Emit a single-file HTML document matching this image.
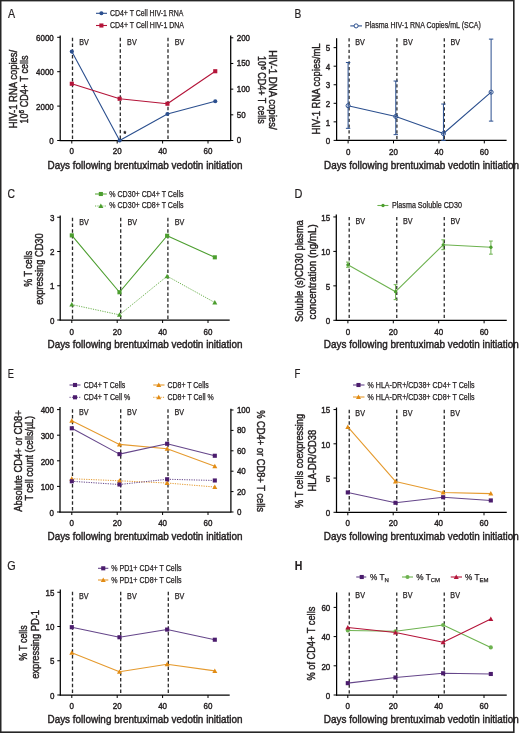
<!DOCTYPE html><html><head><meta charset="utf-8"><style>html,body{margin:0;padding:0;background:#fff;}svg{display:block;will-change:transform;}</style></head><body>
<svg width="520" height="733" viewBox="0 0 520 733" font-family='"Liberation Sans", sans-serif' fill="#231f20"><style>text{stroke:#231f20;stroke-width:0.42px;} .lg{stroke-width:0.25px;}</style>
<rect width="520" height="733" fill="#fff"/>
<line x1="60.20" y1="35.50" x2="60.20" y2="141.10" stroke="#000" stroke-width="1.25"/>
<line x1="59.60" y1="140.50" x2="230.70" y2="140.50" stroke="#000" stroke-width="1.25"/>
<line x1="57.20" y1="140.50" x2="60.20" y2="140.50" stroke="#000" stroke-width="1"/>
<text x="53.80" y="144.20" font-size="8.8" text-anchor="end" textLength="4.45" lengthAdjust="spacingAndGlyphs">0</text>
<line x1="57.20" y1="106.10" x2="60.20" y2="106.10" stroke="#000" stroke-width="1"/>
<text x="53.80" y="109.80" font-size="8.8" text-anchor="end" textLength="17.80" lengthAdjust="spacingAndGlyphs">2000</text>
<line x1="57.20" y1="71.70" x2="60.20" y2="71.70" stroke="#000" stroke-width="1"/>
<text x="53.80" y="75.40" font-size="8.8" text-anchor="end" textLength="17.80" lengthAdjust="spacingAndGlyphs">4000</text>
<line x1="57.20" y1="37.30" x2="60.20" y2="37.30" stroke="#000" stroke-width="1"/>
<text x="53.80" y="41.00" font-size="8.8" text-anchor="end" textLength="17.80" lengthAdjust="spacingAndGlyphs">6000</text>
<line x1="230.70" y1="35.50" x2="230.70" y2="141.10" stroke="#000" stroke-width="1.25"/>
<line x1="230.70" y1="140.50" x2="233.30" y2="140.50" stroke="#000" stroke-width="1"/>
<text x="236.70" y="143.40" font-size="8.8" textLength="4.45" lengthAdjust="spacingAndGlyphs">0</text>
<line x1="230.70" y1="114.82" x2="233.30" y2="114.82" stroke="#000" stroke-width="1"/>
<text x="236.70" y="117.72" font-size="8.8" textLength="8.90" lengthAdjust="spacingAndGlyphs">50</text>
<line x1="230.70" y1="89.15" x2="233.30" y2="89.15" stroke="#000" stroke-width="1"/>
<text x="236.70" y="92.05" font-size="8.8" textLength="13.35" lengthAdjust="spacingAndGlyphs">100</text>
<line x1="230.70" y1="63.47" x2="233.30" y2="63.47" stroke="#000" stroke-width="1"/>
<text x="236.70" y="66.38" font-size="8.8" textLength="13.35" lengthAdjust="spacingAndGlyphs">150</text>
<line x1="230.70" y1="37.80" x2="233.30" y2="37.80" stroke="#000" stroke-width="1"/>
<text x="236.70" y="40.70" font-size="8.8" textLength="13.35" lengthAdjust="spacingAndGlyphs">200</text>
<line x1="71.80" y1="140.50" x2="71.80" y2="143.50" stroke="#000" stroke-width="1"/>
<text x="71.80" y="154.40" font-size="8.8" text-anchor="middle" textLength="4.45" lengthAdjust="spacingAndGlyphs">0</text>
<line x1="117.20" y1="140.50" x2="117.20" y2="143.50" stroke="#000" stroke-width="1"/>
<text x="117.20" y="154.40" font-size="8.8" text-anchor="middle" textLength="8.90" lengthAdjust="spacingAndGlyphs">20</text>
<line x1="162.60" y1="140.50" x2="162.60" y2="143.50" stroke="#000" stroke-width="1"/>
<text x="162.60" y="154.40" font-size="8.8" text-anchor="middle" textLength="8.90" lengthAdjust="spacingAndGlyphs">40</text>
<line x1="208.00" y1="140.50" x2="208.00" y2="143.50" stroke="#000" stroke-width="1"/>
<text x="208.00" y="154.40" font-size="8.8" text-anchor="middle" textLength="8.90" lengthAdjust="spacingAndGlyphs">60</text>
<text x="47.50" y="169.00" font-size="10.3" textLength="195.00" lengthAdjust="spacingAndGlyphs">Days following brentuximab vedotin initiation</text>
<line x1="72.50" y1="37.80" x2="72.50" y2="140.00" stroke="#2a2a2a" stroke-width="1.3" stroke-dasharray="3.4,2.35"/>
<text x="79.30" y="44.70" font-size="8.2" class="lg" textLength="9.60" lengthAdjust="spacingAndGlyphs">BV</text>
<line x1="120.30" y1="37.80" x2="120.30" y2="140.00" stroke="#2a2a2a" stroke-width="1.3" stroke-dasharray="3.4,2.35"/>
<text x="127.10" y="44.70" font-size="8.2" class="lg" textLength="9.60" lengthAdjust="spacingAndGlyphs">BV</text>
<line x1="168.00" y1="37.80" x2="168.00" y2="140.00" stroke="#2a2a2a" stroke-width="1.3" stroke-dasharray="3.4,2.35"/>
<text x="174.80" y="44.70" font-size="8.2" class="lg" textLength="9.60" lengthAdjust="spacingAndGlyphs">BV</text>
<text x="7.90" y="18.10" font-size="12.4" textLength="7.10" lengthAdjust="spacingAndGlyphs" style="stroke-width:0.2px">A</text>
<polyline points="71.80,51.59 119.62,140.50 167.43,113.99 215.25,101.25" fill="none" stroke="#2b4f8e" stroke-width="1.1" stroke-linejoin="round"/>
<polyline points="71.80,83.76 119.62,98.75 167.43,103.73 215.25,71.23" fill="none" stroke="#b41439" stroke-width="1.1" stroke-linejoin="round"/>
<circle cx="71.80" cy="51.59" r="2.05" fill="#2b4f8e"/>
<circle cx="119.62" cy="140.50" r="2.05" fill="#2b4f8e"/>
<circle cx="167.43" cy="113.99" r="2.05" fill="#2b4f8e"/>
<circle cx="215.25" cy="101.25" r="2.05" fill="#2b4f8e"/>
<rect x="69.75" y="81.71" width="4.10" height="4.10" fill="#b41439"/>
<rect x="117.57" y="96.70" width="4.10" height="4.10" fill="#b41439"/>
<rect x="165.38" y="101.68" width="4.10" height="4.10" fill="#b41439"/>
<rect x="213.20" y="69.18" width="4.10" height="4.10" fill="#b41439"/>
<text x="123.50" y="135.50" font-size="7">*</text>
<line x1="96.00" y1="13.30" x2="107.00" y2="13.30" stroke="#2b4f8e" stroke-width="1.1"/>
<circle cx="101.40" cy="13.30" r="2.05" fill="#2b4f8e"/>
<text x="110.00" y="16.40" font-size="8.2" class="lg" textLength="73.50" lengthAdjust="spacingAndGlyphs">CD4+ T Cell HIV-1 RNA</text>
<line x1="96.00" y1="25.50" x2="107.00" y2="25.50" stroke="#b41439" stroke-width="1.1"/>
<rect x="99.35" y="23.45" width="4.10" height="4.10" fill="#b41439"/>
<text x="110.00" y="28.40" font-size="8.2" class="lg" textLength="74.00" lengthAdjust="spacingAndGlyphs">CD4+ T Cell HIV-1 DNA</text>
<text transform="translate(16.70,89.00) rotate(-90)" font-size="10.3" text-anchor="middle" textLength="78.50" lengthAdjust="spacingAndGlyphs">HIV-1 RNA copies/</text>
<text transform="translate(27.60,89.50) rotate(-90)" font-size="10.3" text-anchor="middle" textLength="68.00" lengthAdjust="spacingAndGlyphs">10<tspan dy="-3.3" font-size="7.4">6</tspan><tspan dy="3.3"> CD4+ T cells</tspan></text>
<text transform="translate(269.00,89.90) rotate(90)" font-size="10.3" text-anchor="middle" textLength="79.50" lengthAdjust="spacingAndGlyphs">HIV-1 DNA copies/</text>
<text transform="translate(257.80,89.90) rotate(90)" font-size="10.3" text-anchor="middle" textLength="67.60" lengthAdjust="spacingAndGlyphs">10<tspan dy="-3.3" font-size="7.4">6</tspan><tspan dy="3.3"> CD4+ T cells</tspan></text>
<line x1="336.60" y1="38.20" x2="336.60" y2="141.00" stroke="#000" stroke-width="1.25"/>
<line x1="336.00" y1="140.40" x2="506.60" y2="140.40" stroke="#000" stroke-width="1.25"/>
<line x1="333.60" y1="140.40" x2="336.60" y2="140.40" stroke="#000" stroke-width="1"/>
<text x="330.20" y="144.10" font-size="8.8" text-anchor="end" textLength="4.45" lengthAdjust="spacingAndGlyphs">0</text>
<line x1="333.60" y1="121.85" x2="336.60" y2="121.85" stroke="#000" stroke-width="1"/>
<text x="330.20" y="125.55" font-size="8.8" text-anchor="end" textLength="4.45" lengthAdjust="spacingAndGlyphs">1</text>
<line x1="333.60" y1="103.30" x2="336.60" y2="103.30" stroke="#000" stroke-width="1"/>
<text x="330.20" y="107.00" font-size="8.8" text-anchor="end" textLength="4.45" lengthAdjust="spacingAndGlyphs">2</text>
<line x1="333.60" y1="84.75" x2="336.60" y2="84.75" stroke="#000" stroke-width="1"/>
<text x="330.20" y="88.45" font-size="8.8" text-anchor="end" textLength="4.45" lengthAdjust="spacingAndGlyphs">3</text>
<line x1="333.60" y1="66.20" x2="336.60" y2="66.20" stroke="#000" stroke-width="1"/>
<text x="330.20" y="69.90" font-size="8.8" text-anchor="end" textLength="4.45" lengthAdjust="spacingAndGlyphs">4</text>
<line x1="333.60" y1="47.65" x2="336.60" y2="47.65" stroke="#000" stroke-width="1"/>
<text x="330.20" y="51.35" font-size="8.8" text-anchor="end" textLength="4.45" lengthAdjust="spacingAndGlyphs">5</text>
<line x1="348.10" y1="140.40" x2="348.10" y2="143.40" stroke="#000" stroke-width="1"/>
<text x="348.10" y="155.40" font-size="8.8" text-anchor="middle" textLength="4.45" lengthAdjust="spacingAndGlyphs">0</text>
<line x1="393.50" y1="140.40" x2="393.50" y2="143.40" stroke="#000" stroke-width="1"/>
<text x="393.50" y="155.40" font-size="8.8" text-anchor="middle" textLength="8.90" lengthAdjust="spacingAndGlyphs">20</text>
<line x1="438.90" y1="140.40" x2="438.90" y2="143.40" stroke="#000" stroke-width="1"/>
<text x="438.90" y="155.40" font-size="8.8" text-anchor="middle" textLength="8.90" lengthAdjust="spacingAndGlyphs">40</text>
<line x1="484.30" y1="140.40" x2="484.30" y2="143.40" stroke="#000" stroke-width="1"/>
<text x="484.30" y="155.40" font-size="8.8" text-anchor="middle" textLength="8.90" lengthAdjust="spacingAndGlyphs">60</text>
<text x="324.00" y="169.00" font-size="10.3" textLength="195.00" lengthAdjust="spacingAndGlyphs">Days following brentuximab vedotin initiation</text>
<line x1="349.10" y1="38.20" x2="349.10" y2="139.90" stroke="#2a2a2a" stroke-width="1.3" stroke-dasharray="3.4,2.35"/>
<text x="355.30" y="44.90" font-size="8.2" class="lg" textLength="9.60" lengthAdjust="spacingAndGlyphs">BV</text>
<line x1="396.90" y1="38.20" x2="396.90" y2="139.90" stroke="#2a2a2a" stroke-width="1.3" stroke-dasharray="3.4,2.35"/>
<text x="403.10" y="44.90" font-size="8.2" class="lg" textLength="9.60" lengthAdjust="spacingAndGlyphs">BV</text>
<line x1="444.30" y1="38.20" x2="444.30" y2="139.90" stroke="#2a2a2a" stroke-width="1.3" stroke-dasharray="3.4,2.35"/>
<text x="450.50" y="44.90" font-size="8.2" class="lg" textLength="9.60" lengthAdjust="spacingAndGlyphs">BV</text>
<text x="294.50" y="18.00" font-size="12.4" textLength="6.80" lengthAdjust="spacingAndGlyphs" style="stroke-width:0.2px">B</text>
<polyline points="348.10,105.71 395.77,116.47 443.44,133.54 491.11,92.17" fill="none" stroke="#2b4f8e" stroke-width="1.1" stroke-linejoin="round"/>
<line x1="348.10" y1="62.49" x2="348.10" y2="128.34" stroke="#2b4f8e" stroke-width="1.0"/>
<line x1="345.90" y1="62.49" x2="350.30" y2="62.49" stroke="#2b4f8e" stroke-width="1.0"/>
<line x1="345.90" y1="128.34" x2="350.30" y2="128.34" stroke="#2b4f8e" stroke-width="1.0"/>
<circle cx="348.10" cy="105.71" r="2.05" fill="none" stroke="#2b4f8e" stroke-width="1.0"/>
<line x1="395.77" y1="81.04" x2="395.77" y2="134.65" stroke="#2b4f8e" stroke-width="1.0"/>
<line x1="393.57" y1="81.04" x2="397.97" y2="81.04" stroke="#2b4f8e" stroke-width="1.0"/>
<line x1="393.57" y1="134.65" x2="397.97" y2="134.65" stroke="#2b4f8e" stroke-width="1.0"/>
<circle cx="395.77" cy="116.47" r="2.05" fill="none" stroke="#2b4f8e" stroke-width="1.0"/>
<line x1="443.44" y1="104.04" x2="443.44" y2="140.40" stroke="#2b4f8e" stroke-width="1.0"/>
<line x1="441.24" y1="104.04" x2="445.64" y2="104.04" stroke="#2b4f8e" stroke-width="1.0"/>
<line x1="441.24" y1="140.40" x2="445.64" y2="140.40" stroke="#2b4f8e" stroke-width="1.0"/>
<circle cx="443.44" cy="133.54" r="2.05" fill="none" stroke="#2b4f8e" stroke-width="1.0"/>
<line x1="491.11" y1="39.12" x2="491.11" y2="121.11" stroke="#2b4f8e" stroke-width="1.0"/>
<line x1="488.91" y1="39.12" x2="493.31" y2="39.12" stroke="#2b4f8e" stroke-width="1.0"/>
<line x1="488.91" y1="121.11" x2="493.31" y2="121.11" stroke="#2b4f8e" stroke-width="1.0"/>
<circle cx="491.11" cy="92.17" r="2.05" fill="none" stroke="#2b4f8e" stroke-width="1.0"/>
<line x1="350.30" y1="25.90" x2="362.00" y2="25.90" stroke="#2b4f8e" stroke-width="1.1"/>
<circle cx="356.1" cy="25.9" r="2.05" fill="#fff" stroke="#2b4f8e" stroke-width="1.0"/>
<text x="365.10" y="28.20" font-size="8.2" class="lg" textLength="115.70" lengthAdjust="spacingAndGlyphs">Plasma HIV-1 RNA Copies/mL (SCA)</text>
<text transform="translate(320.30,89.00) rotate(-90)" font-size="10.3" text-anchor="middle" textLength="91.20" lengthAdjust="spacingAndGlyphs">HIV-1 RNA copies/mL</text>
<line x1="60.20" y1="215.50" x2="60.20" y2="320.60" stroke="#000" stroke-width="1.25"/>
<line x1="59.60" y1="320.00" x2="229.70" y2="320.00" stroke="#000" stroke-width="1.25"/>
<line x1="57.20" y1="320.00" x2="60.20" y2="320.00" stroke="#000" stroke-width="1"/>
<text x="54.50" y="323.70" font-size="8.8" text-anchor="end" textLength="4.45" lengthAdjust="spacingAndGlyphs">0</text>
<line x1="57.20" y1="285.75" x2="60.20" y2="285.75" stroke="#000" stroke-width="1"/>
<text x="54.50" y="289.45" font-size="8.8" text-anchor="end" textLength="4.45" lengthAdjust="spacingAndGlyphs">1</text>
<line x1="57.20" y1="251.50" x2="60.20" y2="251.50" stroke="#000" stroke-width="1"/>
<text x="54.50" y="255.20" font-size="8.8" text-anchor="end" textLength="4.45" lengthAdjust="spacingAndGlyphs">2</text>
<line x1="57.20" y1="217.25" x2="60.20" y2="217.25" stroke="#000" stroke-width="1"/>
<text x="54.50" y="220.95" font-size="8.8" text-anchor="end" textLength="4.45" lengthAdjust="spacingAndGlyphs">3</text>
<line x1="71.80" y1="320.00" x2="71.80" y2="323.00" stroke="#000" stroke-width="1"/>
<text x="71.80" y="334.90" font-size="8.8" text-anchor="middle" textLength="4.45" lengthAdjust="spacingAndGlyphs">0</text>
<line x1="117.20" y1="320.00" x2="117.20" y2="323.00" stroke="#000" stroke-width="1"/>
<text x="117.20" y="334.90" font-size="8.8" text-anchor="middle" textLength="8.90" lengthAdjust="spacingAndGlyphs">20</text>
<line x1="162.60" y1="320.00" x2="162.60" y2="323.00" stroke="#000" stroke-width="1"/>
<text x="162.60" y="334.90" font-size="8.8" text-anchor="middle" textLength="8.90" lengthAdjust="spacingAndGlyphs">40</text>
<line x1="208.00" y1="320.00" x2="208.00" y2="323.00" stroke="#000" stroke-width="1"/>
<text x="208.00" y="334.90" font-size="8.8" text-anchor="middle" textLength="8.90" lengthAdjust="spacingAndGlyphs">60</text>
<text x="47.50" y="348.30" font-size="10.3" textLength="195.00" lengthAdjust="spacingAndGlyphs">Days following brentuximab vedotin initiation</text>
<line x1="72.50" y1="217.80" x2="72.50" y2="319.50" stroke="#2a2a2a" stroke-width="1.3" stroke-dasharray="3.4,2.35"/>
<text x="79.30" y="224.60" font-size="8.2" class="lg" textLength="9.60" lengthAdjust="spacingAndGlyphs">BV</text>
<line x1="120.70" y1="217.80" x2="120.70" y2="319.50" stroke="#2a2a2a" stroke-width="1.3" stroke-dasharray="3.4,2.35"/>
<text x="127.50" y="224.60" font-size="8.2" class="lg" textLength="9.60" lengthAdjust="spacingAndGlyphs">BV</text>
<line x1="167.90" y1="217.80" x2="167.90" y2="319.50" stroke="#2a2a2a" stroke-width="1.3" stroke-dasharray="3.4,2.35"/>
<text x="174.70" y="224.60" font-size="8.2" class="lg" textLength="9.60" lengthAdjust="spacingAndGlyphs">BV</text>
<text x="7.50" y="198.20" font-size="12.4" textLength="7.50" lengthAdjust="spacingAndGlyphs" style="stroke-width:0.2px">C</text>
<polyline points="71.80,235.40 119.47,292.26 167.14,235.75 214.81,257.32" fill="none" stroke="#4c9e2f" stroke-width="1.1" stroke-linejoin="round"/>
<polyline points="71.80,304.59 119.47,314.86 167.14,276.16 214.81,302.53" fill="none" stroke="#6db24f" stroke-width="1.0" stroke-linejoin="round" stroke-dasharray="1.2,1.2"/>
<rect x="69.75" y="233.35" width="4.10" height="4.10" fill="#4c9e2f"/>
<rect x="117.42" y="290.21" width="4.10" height="4.10" fill="#4c9e2f"/>
<rect x="165.09" y="233.69" width="4.10" height="4.10" fill="#4c9e2f"/>
<rect x="212.76" y="255.27" width="4.10" height="4.10" fill="#4c9e2f"/>
<polygon points="71.80,302.09 74.30,306.59 69.30,306.59" fill="#4c9e2f"/>
<polygon points="119.47,312.36 121.97,316.86 116.97,316.86" fill="#4c9e2f"/>
<polygon points="167.14,273.66 169.64,278.16 164.64,278.16" fill="#4c9e2f"/>
<polygon points="214.81,300.03 217.31,304.53 212.31,304.53" fill="#4c9e2f"/>
<line x1="95.00" y1="194.00" x2="106.80" y2="194.00" stroke="#6db24f" stroke-width="1.2"/>
<rect x="98.80" y="191.95" width="4.10" height="4.10" fill="#4c9e2f"/>
<line x1="95.00" y1="206.00" x2="106.80" y2="206.00" stroke="#6db24f" stroke-width="1.0" stroke-dasharray="1.2,1.2"/>
<polygon points="100.85,203.50 103.35,208.00 98.35,208.00" fill="#4c9e2f"/>
<text x="109.30" y="196.70" font-size="8.2" class="lg" textLength="74.20" lengthAdjust="spacingAndGlyphs">% CD30+ CD4+ T Cells</text>
<text x="109.30" y="208.00" font-size="8.2" class="lg" textLength="74.20" lengthAdjust="spacingAndGlyphs">% CD30+ CD8+ T Cells</text>
<text transform="translate(32.00,268.75) rotate(-90)" font-size="10.3" text-anchor="middle" textLength="35.90" lengthAdjust="spacingAndGlyphs">% T cells</text>
<text transform="translate(43.40,269.00) rotate(-90)" font-size="10.3" text-anchor="middle" textLength="71.40" lengthAdjust="spacingAndGlyphs">expressing CD30</text>
<line x1="336.30" y1="214.60" x2="336.30" y2="320.90" stroke="#000" stroke-width="1.25"/>
<line x1="335.70" y1="320.30" x2="506.75" y2="320.30" stroke="#000" stroke-width="1.25"/>
<line x1="333.30" y1="320.30" x2="336.30" y2="320.30" stroke="#000" stroke-width="1"/>
<text x="330.20" y="324.00" font-size="8.8" text-anchor="end" textLength="4.45" lengthAdjust="spacingAndGlyphs">0</text>
<line x1="333.30" y1="285.85" x2="336.30" y2="285.85" stroke="#000" stroke-width="1"/>
<text x="330.20" y="289.55" font-size="8.8" text-anchor="end" textLength="4.45" lengthAdjust="spacingAndGlyphs">5</text>
<line x1="333.30" y1="251.40" x2="336.30" y2="251.40" stroke="#000" stroke-width="1"/>
<text x="330.20" y="255.10" font-size="8.8" text-anchor="end" textLength="8.90" lengthAdjust="spacingAndGlyphs">10</text>
<line x1="333.30" y1="216.95" x2="336.30" y2="216.95" stroke="#000" stroke-width="1"/>
<text x="330.20" y="220.65" font-size="8.8" text-anchor="end" textLength="8.90" lengthAdjust="spacingAndGlyphs">15</text>
<line x1="347.90" y1="320.30" x2="347.90" y2="323.30" stroke="#000" stroke-width="1"/>
<text x="347.90" y="334.50" font-size="8.8" text-anchor="middle" textLength="4.45" lengthAdjust="spacingAndGlyphs">0</text>
<line x1="393.30" y1="320.30" x2="393.30" y2="323.30" stroke="#000" stroke-width="1"/>
<text x="393.30" y="334.50" font-size="8.8" text-anchor="middle" textLength="8.90" lengthAdjust="spacingAndGlyphs">20</text>
<line x1="438.70" y1="320.30" x2="438.70" y2="323.30" stroke="#000" stroke-width="1"/>
<text x="438.70" y="334.50" font-size="8.8" text-anchor="middle" textLength="8.90" lengthAdjust="spacingAndGlyphs">40</text>
<line x1="484.10" y1="320.30" x2="484.10" y2="323.30" stroke="#000" stroke-width="1"/>
<text x="484.10" y="334.50" font-size="8.8" text-anchor="middle" textLength="8.90" lengthAdjust="spacingAndGlyphs">60</text>
<text x="323.80" y="347.70" font-size="10.3" textLength="195.00" lengthAdjust="spacingAndGlyphs">Days following brentuximab vedotin initiation</text>
<line x1="349.20" y1="216.90" x2="349.20" y2="319.80" stroke="#2a2a2a" stroke-width="1.3" stroke-dasharray="3.4,2.35"/>
<text x="355.40" y="223.70" font-size="8.2" class="lg" textLength="9.60" lengthAdjust="spacingAndGlyphs">BV</text>
<line x1="396.75" y1="216.90" x2="396.75" y2="319.80" stroke="#2a2a2a" stroke-width="1.3" stroke-dasharray="3.4,2.35"/>
<text x="402.95" y="223.70" font-size="8.2" class="lg" textLength="9.60" lengthAdjust="spacingAndGlyphs">BV</text>
<line x1="444.25" y1="216.90" x2="444.25" y2="319.80" stroke="#2a2a2a" stroke-width="1.3" stroke-dasharray="3.4,2.35"/>
<text x="450.45" y="223.70" font-size="8.2" class="lg" textLength="9.60" lengthAdjust="spacingAndGlyphs">BV</text>
<text x="294.50" y="198.10" font-size="12.4" textLength="7.90" lengthAdjust="spacingAndGlyphs" style="stroke-width:0.2px">D</text>
<polyline points="347.90,264.84 395.57,291.71 443.24,244.79 490.91,247.27" fill="none" stroke="#6db24f" stroke-width="1.1" stroke-linejoin="round"/>
<line x1="347.90" y1="262.08" x2="347.90" y2="267.25" stroke="#6db24f" stroke-width="1.0"/>
<line x1="346.00" y1="262.08" x2="349.80" y2="262.08" stroke="#6db24f" stroke-width="1.0"/>
<line x1="346.00" y1="267.25" x2="349.80" y2="267.25" stroke="#6db24f" stroke-width="1.0"/>
<circle cx="347.90" cy="264.84" r="1.65" fill="#4c9e2f"/>
<line x1="395.57" y1="284.68" x2="395.57" y2="299.63" stroke="#6db24f" stroke-width="1.0"/>
<line x1="393.67" y1="284.68" x2="397.47" y2="284.68" stroke="#6db24f" stroke-width="1.0"/>
<line x1="393.67" y1="299.63" x2="397.47" y2="299.63" stroke="#6db24f" stroke-width="1.0"/>
<circle cx="395.57" cy="291.71" r="1.65" fill="#4c9e2f"/>
<line x1="443.24" y1="239.82" x2="443.24" y2="249.68" stroke="#6db24f" stroke-width="1.0"/>
<line x1="441.34" y1="239.82" x2="445.14" y2="239.82" stroke="#6db24f" stroke-width="1.0"/>
<line x1="441.34" y1="249.68" x2="445.14" y2="249.68" stroke="#6db24f" stroke-width="1.0"/>
<circle cx="443.24" cy="244.79" r="1.65" fill="#4c9e2f"/>
<line x1="490.91" y1="241.06" x2="490.91" y2="254.16" stroke="#6db24f" stroke-width="1.0"/>
<line x1="489.01" y1="241.06" x2="492.81" y2="241.06" stroke="#6db24f" stroke-width="1.0"/>
<line x1="489.01" y1="254.16" x2="492.81" y2="254.16" stroke="#6db24f" stroke-width="1.0"/>
<circle cx="490.91" cy="247.27" r="1.65" fill="#4c9e2f"/>
<line x1="377.40" y1="205.50" x2="388.40" y2="205.50" stroke="#6db24f" stroke-width="1.1"/>
<circle cx="383.00" cy="205.50" r="1.65" fill="#4c9e2f"/>
<text x="392.00" y="208.10" font-size="8.2" class="lg" textLength="70.00" lengthAdjust="spacingAndGlyphs">Plasma Soluble CD30</text>
<text transform="translate(302.90,271.10) rotate(-90)" font-size="10.3" text-anchor="middle" textLength="101.80" lengthAdjust="spacingAndGlyphs">Soluble (s)CD30 plasma</text>
<text transform="translate(315.80,271.90) rotate(-90)" font-size="10.3" text-anchor="middle" textLength="95.20" lengthAdjust="spacingAndGlyphs">concentration (ng/mL)</text>
<line x1="60.00" y1="407.00" x2="60.00" y2="512.60" stroke="#000" stroke-width="1.25"/>
<line x1="59.40" y1="512.00" x2="230.90" y2="512.00" stroke="#000" stroke-width="1.25"/>
<line x1="57.00" y1="512.00" x2="60.00" y2="512.00" stroke="#000" stroke-width="1"/>
<text x="54.00" y="515.70" font-size="8.8" text-anchor="end" textLength="4.45" lengthAdjust="spacingAndGlyphs">0</text>
<line x1="57.00" y1="486.40" x2="60.00" y2="486.40" stroke="#000" stroke-width="1"/>
<text x="54.00" y="490.10" font-size="8.8" text-anchor="end" textLength="13.35" lengthAdjust="spacingAndGlyphs">100</text>
<line x1="57.00" y1="460.80" x2="60.00" y2="460.80" stroke="#000" stroke-width="1"/>
<text x="54.00" y="464.50" font-size="8.8" text-anchor="end" textLength="13.35" lengthAdjust="spacingAndGlyphs">200</text>
<line x1="57.00" y1="435.20" x2="60.00" y2="435.20" stroke="#000" stroke-width="1"/>
<text x="54.00" y="438.90" font-size="8.8" text-anchor="end" textLength="13.35" lengthAdjust="spacingAndGlyphs">300</text>
<line x1="57.00" y1="409.60" x2="60.00" y2="409.60" stroke="#000" stroke-width="1"/>
<text x="54.00" y="413.30" font-size="8.8" text-anchor="end" textLength="13.35" lengthAdjust="spacingAndGlyphs">400</text>
<line x1="230.90" y1="408.80" x2="230.90" y2="512.60" stroke="#000" stroke-width="1.25"/>
<line x1="230.90" y1="512.00" x2="233.50" y2="512.00" stroke="#000" stroke-width="1"/>
<text x="236.90" y="514.90" font-size="8.8" textLength="4.45" lengthAdjust="spacingAndGlyphs">0</text>
<line x1="230.90" y1="491.60" x2="233.50" y2="491.60" stroke="#000" stroke-width="1"/>
<text x="236.90" y="494.50" font-size="8.8" textLength="8.90" lengthAdjust="spacingAndGlyphs">20</text>
<line x1="230.90" y1="471.20" x2="233.50" y2="471.20" stroke="#000" stroke-width="1"/>
<text x="236.90" y="474.10" font-size="8.8" textLength="8.90" lengthAdjust="spacingAndGlyphs">40</text>
<line x1="230.90" y1="450.80" x2="233.50" y2="450.80" stroke="#000" stroke-width="1"/>
<text x="236.90" y="453.70" font-size="8.8" textLength="8.90" lengthAdjust="spacingAndGlyphs">60</text>
<line x1="230.90" y1="430.40" x2="233.50" y2="430.40" stroke="#000" stroke-width="1"/>
<text x="236.90" y="433.30" font-size="8.8" textLength="8.90" lengthAdjust="spacingAndGlyphs">80</text>
<line x1="230.90" y1="410.00" x2="233.50" y2="410.00" stroke="#000" stroke-width="1"/>
<text x="236.90" y="412.90" font-size="8.8" textLength="13.35" lengthAdjust="spacingAndGlyphs">100</text>
<line x1="71.80" y1="512.00" x2="71.80" y2="515.00" stroke="#000" stroke-width="1"/>
<text x="71.80" y="526.40" font-size="8.8" text-anchor="middle" textLength="4.45" lengthAdjust="spacingAndGlyphs">0</text>
<line x1="117.20" y1="512.00" x2="117.20" y2="515.00" stroke="#000" stroke-width="1"/>
<text x="117.20" y="526.40" font-size="8.8" text-anchor="middle" textLength="8.90" lengthAdjust="spacingAndGlyphs">20</text>
<line x1="162.60" y1="512.00" x2="162.60" y2="515.00" stroke="#000" stroke-width="1"/>
<text x="162.60" y="526.40" font-size="8.8" text-anchor="middle" textLength="8.90" lengthAdjust="spacingAndGlyphs">40</text>
<line x1="208.00" y1="512.00" x2="208.00" y2="515.00" stroke="#000" stroke-width="1"/>
<text x="208.00" y="526.40" font-size="8.8" text-anchor="middle" textLength="8.90" lengthAdjust="spacingAndGlyphs">60</text>
<text x="47.50" y="539.50" font-size="10.3" textLength="195.00" lengthAdjust="spacingAndGlyphs">Days following brentuximab vedotin initiation</text>
<line x1="72.50" y1="409.30" x2="72.50" y2="511.50" stroke="#2a2a2a" stroke-width="1.3" stroke-dasharray="3.4,2.35"/>
<text x="78.90" y="414.80" font-size="8.2" class="lg" textLength="9.60" lengthAdjust="spacingAndGlyphs">BV</text>
<line x1="120.70" y1="409.30" x2="120.70" y2="511.50" stroke="#2a2a2a" stroke-width="1.3" stroke-dasharray="3.4,2.35"/>
<text x="127.10" y="414.80" font-size="8.2" class="lg" textLength="9.60" lengthAdjust="spacingAndGlyphs">BV</text>
<line x1="168.00" y1="409.30" x2="168.00" y2="511.50" stroke="#2a2a2a" stroke-width="1.3" stroke-dasharray="3.4,2.35"/>
<text x="174.40" y="414.80" font-size="8.2" class="lg" textLength="9.60" lengthAdjust="spacingAndGlyphs">BV</text>
<text x="7.80" y="378.00" font-size="12.4" textLength="6.20" lengthAdjust="spacingAndGlyphs" style="stroke-width:0.2px">E</text>
<polyline points="71.80,420.86 119.47,444.42 167.14,448.77 214.81,466.25" fill="none" stroke="#e59a2e" stroke-width="1.1" stroke-linejoin="round"/>
<polyline points="71.80,428.29 119.47,454.14 167.14,443.75 214.81,455.76" fill="none" stroke="#65468a" stroke-width="1.1" stroke-linejoin="round"/>
<polyline points="71.80,478.75 119.47,480.79 167.14,483.03 214.81,487.01" fill="none" stroke="#e59a2e" stroke-width="1.0" stroke-linejoin="round" stroke-dasharray="1.2,1.2"/>
<polyline points="71.80,481.30 119.47,484.50 167.14,479.26 214.81,480.48" fill="none" stroke="#65468a" stroke-width="1.0" stroke-linejoin="round" stroke-dasharray="1.2,1.2"/>
<polygon points="71.80,418.36 74.30,422.86 69.30,422.86" fill="#e28c14"/>
<polygon points="119.47,441.92 121.97,446.42 116.97,446.42" fill="#e28c14"/>
<polygon points="167.14,446.27 169.64,450.77 164.64,450.77" fill="#e28c14"/>
<polygon points="214.81,463.75 217.31,468.25 212.31,468.25" fill="#e28c14"/>
<rect x="69.75" y="426.24" width="4.10" height="4.10" fill="#4b1c6d"/>
<rect x="117.42" y="452.09" width="4.10" height="4.10" fill="#4b1c6d"/>
<rect x="165.09" y="441.70" width="4.10" height="4.10" fill="#4b1c6d"/>
<rect x="212.76" y="453.71" width="4.10" height="4.10" fill="#4b1c6d"/>
<polygon points="71.80,476.25 74.30,480.75 69.30,480.75" fill="#e28c14"/>
<polygon points="119.47,478.29 121.97,482.79 116.97,482.79" fill="#e28c14"/>
<polygon points="167.14,480.53 169.64,485.03 164.64,485.03" fill="#e28c14"/>
<polygon points="214.81,484.51 217.31,489.01 212.31,489.01" fill="#e28c14"/>
<rect x="69.75" y="479.25" width="4.10" height="4.10" fill="#4b1c6d"/>
<rect x="117.42" y="482.45" width="4.10" height="4.10" fill="#4b1c6d"/>
<rect x="165.09" y="477.21" width="4.10" height="4.10" fill="#4b1c6d"/>
<rect x="212.76" y="478.43" width="4.10" height="4.10" fill="#4b1c6d"/>
<line x1="69.50" y1="385.00" x2="80.50" y2="385.00" stroke="#65468a" stroke-width="1.1"/>
<rect x="72.95" y="382.95" width="4.10" height="4.10" fill="#4b1c6d"/>
<line x1="69.50" y1="397.30" x2="80.50" y2="397.30" stroke="#65468a" stroke-width="1.0" stroke-dasharray="1.2,1.2"/>
<rect x="72.95" y="395.25" width="4.10" height="4.10" fill="#4b1c6d"/>
<line x1="153.25" y1="385.00" x2="164.50" y2="385.00" stroke="#e59a2e" stroke-width="1.1"/>
<polygon points="158.75,382.50 161.25,387.00 156.25,387.00" fill="#e28c14"/>
<line x1="153.25" y1="397.30" x2="164.50" y2="397.30" stroke="#e59a2e" stroke-width="1.0" stroke-dasharray="1.2,1.2"/>
<polygon points="158.75,394.80 161.25,399.30 156.25,399.30" fill="#e28c14"/>
<text x="83.75" y="387.80" font-size="8.2" class="lg" textLength="41.50" lengthAdjust="spacingAndGlyphs">CD4+ T Cells</text>
<text x="83.75" y="400.00" font-size="8.2" class="lg" textLength="46.50" lengthAdjust="spacingAndGlyphs">CD4+ T Cell %</text>
<text x="167.50" y="387.80" font-size="8.2" class="lg" textLength="41.25" lengthAdjust="spacingAndGlyphs">CD8+ T Cells</text>
<text x="167.50" y="400.00" font-size="8.2" class="lg" textLength="46.25" lengthAdjust="spacingAndGlyphs">CD8+ T Cell %</text>
<text transform="translate(21.70,461.00) rotate(-90)" font-size="10.3" text-anchor="middle" textLength="101.70" lengthAdjust="spacingAndGlyphs">Absolute CD4+ or CD8+</text>
<text transform="translate(32.80,458.20) rotate(-90)" font-size="10.3" text-anchor="middle" textLength="84.50" lengthAdjust="spacingAndGlyphs">T cell count (cells/µL)</text>
<text transform="translate(257.30,461.10) rotate(90)" font-size="10.3" text-anchor="middle" textLength="101.80" lengthAdjust="spacingAndGlyphs">% CD4+ or CD8+ T cells</text>
<line x1="336.50" y1="407.50" x2="336.50" y2="512.90" stroke="#000" stroke-width="1.25"/>
<line x1="335.90" y1="512.30" x2="506.75" y2="512.30" stroke="#000" stroke-width="1.25"/>
<line x1="333.50" y1="512.30" x2="336.50" y2="512.30" stroke="#000" stroke-width="1"/>
<text x="330.20" y="516.00" font-size="8.8" text-anchor="end" textLength="4.45" lengthAdjust="spacingAndGlyphs">0</text>
<line x1="333.50" y1="478.05" x2="336.50" y2="478.05" stroke="#000" stroke-width="1"/>
<text x="330.20" y="481.75" font-size="8.8" text-anchor="end" textLength="4.45" lengthAdjust="spacingAndGlyphs">5</text>
<line x1="333.50" y1="443.80" x2="336.50" y2="443.80" stroke="#000" stroke-width="1"/>
<text x="330.20" y="447.50" font-size="8.8" text-anchor="end" textLength="8.90" lengthAdjust="spacingAndGlyphs">10</text>
<line x1="333.50" y1="409.55" x2="336.50" y2="409.55" stroke="#000" stroke-width="1"/>
<text x="330.20" y="413.25" font-size="8.8" text-anchor="end" textLength="8.90" lengthAdjust="spacingAndGlyphs">15</text>
<line x1="347.80" y1="512.30" x2="347.80" y2="515.30" stroke="#000" stroke-width="1"/>
<text x="347.80" y="526.40" font-size="8.8" text-anchor="middle" textLength="4.45" lengthAdjust="spacingAndGlyphs">0</text>
<line x1="393.20" y1="512.30" x2="393.20" y2="515.30" stroke="#000" stroke-width="1"/>
<text x="393.20" y="526.40" font-size="8.8" text-anchor="middle" textLength="8.90" lengthAdjust="spacingAndGlyphs">20</text>
<line x1="438.60" y1="512.30" x2="438.60" y2="515.30" stroke="#000" stroke-width="1"/>
<text x="438.60" y="526.40" font-size="8.8" text-anchor="middle" textLength="8.90" lengthAdjust="spacingAndGlyphs">40</text>
<line x1="484.00" y1="512.30" x2="484.00" y2="515.30" stroke="#000" stroke-width="1"/>
<text x="484.00" y="526.40" font-size="8.8" text-anchor="middle" textLength="8.90" lengthAdjust="spacingAndGlyphs">60</text>
<text x="323.80" y="539.90" font-size="10.3" textLength="195.00" lengthAdjust="spacingAndGlyphs">Days following brentuximab vedotin initiation</text>
<line x1="349.25" y1="409.80" x2="349.25" y2="511.80" stroke="#2a2a2a" stroke-width="1.3" stroke-dasharray="3.4,2.35"/>
<text x="355.35" y="415.90" font-size="8.2" class="lg" textLength="9.60" lengthAdjust="spacingAndGlyphs">BV</text>
<line x1="396.75" y1="409.80" x2="396.75" y2="511.80" stroke="#2a2a2a" stroke-width="1.3" stroke-dasharray="3.4,2.35"/>
<text x="402.85" y="415.90" font-size="8.2" class="lg" textLength="9.60" lengthAdjust="spacingAndGlyphs">BV</text>
<line x1="444.25" y1="409.80" x2="444.25" y2="511.80" stroke="#2a2a2a" stroke-width="1.3" stroke-dasharray="3.4,2.35"/>
<text x="450.35" y="415.90" font-size="8.2" class="lg" textLength="9.60" lengthAdjust="spacingAndGlyphs">BV</text>
<text x="294.60" y="378.00" font-size="12.4" textLength="5.90" lengthAdjust="spacingAndGlyphs" style="stroke-width:0.2px">F</text>
<polyline points="347.80,426.95 395.47,481.47 443.14,492.43 490.81,493.60" fill="none" stroke="#e59a2e" stroke-width="1.1" stroke-linejoin="round"/>
<polyline points="347.80,492.43 395.47,502.78 443.14,497.23 490.81,500.45" fill="none" stroke="#65468a" stroke-width="1.1" stroke-linejoin="round"/>
<polygon points="347.80,424.45 350.30,428.95 345.30,428.95" fill="#e28c14"/>
<polygon points="395.47,478.97 397.97,483.47 392.97,483.47" fill="#e28c14"/>
<polygon points="443.14,489.93 445.64,494.43 440.64,494.43" fill="#e28c14"/>
<polygon points="490.81,491.10 493.31,495.60 488.31,495.60" fill="#e28c14"/>
<rect x="345.75" y="490.38" width="4.10" height="4.10" fill="#4b1c6d"/>
<rect x="393.42" y="500.73" width="4.10" height="4.10" fill="#4b1c6d"/>
<rect x="441.09" y="495.18" width="4.10" height="4.10" fill="#4b1c6d"/>
<rect x="488.76" y="498.40" width="4.10" height="4.10" fill="#4b1c6d"/>
<line x1="353.00" y1="385.00" x2="364.50" y2="385.00" stroke="#65468a" stroke-width="1.1"/>
<rect x="356.45" y="382.95" width="4.10" height="4.10" fill="#4b1c6d"/>
<line x1="353.00" y1="397.00" x2="364.50" y2="397.00" stroke="#e59a2e" stroke-width="1.1"/>
<polygon points="358.50,394.50 361.00,399.00 356.00,399.00" fill="#e28c14"/>
<text x="367.50" y="387.80" font-size="8.2" class="lg" textLength="107.00" lengthAdjust="spacingAndGlyphs">% HLA-DR+/CD38+ CD4+ T Cells</text>
<text x="367.50" y="399.80" font-size="8.2" class="lg" textLength="107.00" lengthAdjust="spacingAndGlyphs">% HLA-DR+/CD38+ CD8+ T Cells</text>
<text transform="translate(303.40,460.90) rotate(-90)" font-size="10.3" text-anchor="middle" textLength="94.00" lengthAdjust="spacingAndGlyphs">% T cells coexpressing</text>
<text transform="translate(316.00,460.65) rotate(-90)" font-size="10.3" text-anchor="middle" textLength="61.70" lengthAdjust="spacingAndGlyphs">HLA-DR/CD38</text>
<line x1="60.30" y1="589.50" x2="60.30" y2="695.60" stroke="#000" stroke-width="1.25"/>
<line x1="59.70" y1="695.00" x2="229.70" y2="695.00" stroke="#000" stroke-width="1.25"/>
<line x1="57.30" y1="695.00" x2="60.30" y2="695.00" stroke="#000" stroke-width="1"/>
<text x="54.50" y="698.70" font-size="8.8" text-anchor="end" textLength="4.45" lengthAdjust="spacingAndGlyphs">0</text>
<line x1="57.30" y1="660.75" x2="60.30" y2="660.75" stroke="#000" stroke-width="1"/>
<text x="54.50" y="664.45" font-size="8.8" text-anchor="end" textLength="4.45" lengthAdjust="spacingAndGlyphs">5</text>
<line x1="57.30" y1="626.50" x2="60.30" y2="626.50" stroke="#000" stroke-width="1"/>
<text x="54.50" y="630.20" font-size="8.8" text-anchor="end" textLength="8.90" lengthAdjust="spacingAndGlyphs">10</text>
<line x1="57.30" y1="592.25" x2="60.30" y2="592.25" stroke="#000" stroke-width="1"/>
<text x="54.50" y="595.95" font-size="8.8" text-anchor="end" textLength="8.90" lengthAdjust="spacingAndGlyphs">15</text>
<line x1="71.80" y1="695.00" x2="71.80" y2="698.00" stroke="#000" stroke-width="1"/>
<text x="71.80" y="708.90" font-size="8.8" text-anchor="middle" textLength="4.45" lengthAdjust="spacingAndGlyphs">0</text>
<line x1="117.20" y1="695.00" x2="117.20" y2="698.00" stroke="#000" stroke-width="1"/>
<text x="117.20" y="708.90" font-size="8.8" text-anchor="middle" textLength="8.90" lengthAdjust="spacingAndGlyphs">20</text>
<line x1="162.60" y1="695.00" x2="162.60" y2="698.00" stroke="#000" stroke-width="1"/>
<text x="162.60" y="708.90" font-size="8.8" text-anchor="middle" textLength="8.90" lengthAdjust="spacingAndGlyphs">40</text>
<line x1="208.00" y1="695.00" x2="208.00" y2="698.00" stroke="#000" stroke-width="1"/>
<text x="208.00" y="708.90" font-size="8.8" text-anchor="middle" textLength="8.90" lengthAdjust="spacingAndGlyphs">60</text>
<text x="47.50" y="723.20" font-size="10.3" textLength="195.00" lengthAdjust="spacingAndGlyphs">Days following brentuximab vedotin initiation</text>
<line x1="72.50" y1="591.80" x2="72.50" y2="694.50" stroke="#2a2a2a" stroke-width="1.3" stroke-dasharray="3.4,2.35"/>
<text x="78.90" y="598.80" font-size="8.2" class="lg" textLength="9.60" lengthAdjust="spacingAndGlyphs">BV</text>
<line x1="120.70" y1="591.80" x2="120.70" y2="694.50" stroke="#2a2a2a" stroke-width="1.3" stroke-dasharray="3.4,2.35"/>
<text x="127.10" y="598.80" font-size="8.2" class="lg" textLength="9.60" lengthAdjust="spacingAndGlyphs">BV</text>
<line x1="168.30" y1="591.80" x2="168.30" y2="694.50" stroke="#2a2a2a" stroke-width="1.3" stroke-dasharray="3.4,2.35"/>
<text x="174.70" y="598.80" font-size="8.2" class="lg" textLength="9.60" lengthAdjust="spacingAndGlyphs">BV</text>
<text x="7.30" y="570.00" font-size="12.4" textLength="8.40" lengthAdjust="spacingAndGlyphs" style="stroke-width:0.2px">G</text>
<polyline points="71.80,652.74 119.47,671.71 167.14,664.31 214.81,670.89" fill="none" stroke="#e59a2e" stroke-width="1.1" stroke-linejoin="round"/>
<polyline points="71.80,627.18 119.47,637.25 167.14,629.58 214.81,639.72" fill="none" stroke="#65468a" stroke-width="1.1" stroke-linejoin="round"/>
<polygon points="71.80,650.24 74.30,654.74 69.30,654.74" fill="#e28c14"/>
<polygon points="119.47,669.21 121.97,673.71 116.97,673.71" fill="#e28c14"/>
<polygon points="167.14,661.81 169.64,666.31 164.64,666.31" fill="#e28c14"/>
<polygon points="214.81,668.39 217.31,672.89 212.31,672.89" fill="#e28c14"/>
<rect x="69.75" y="625.13" width="4.10" height="4.10" fill="#4b1c6d"/>
<rect x="117.42" y="635.20" width="4.10" height="4.10" fill="#4b1c6d"/>
<rect x="165.09" y="627.53" width="4.10" height="4.10" fill="#4b1c6d"/>
<rect x="212.76" y="637.67" width="4.10" height="4.10" fill="#4b1c6d"/>
<line x1="98.00" y1="568.30" x2="108.30" y2="568.30" stroke="#65468a" stroke-width="1.1"/>
<rect x="101.20" y="566.25" width="4.10" height="4.10" fill="#4b1c6d"/>
<line x1="98.00" y1="580.00" x2="108.30" y2="580.00" stroke="#e59a2e" stroke-width="1.1"/>
<polygon points="103.25,577.50 105.75,582.00 100.75,582.00" fill="#e28c14"/>
<text x="111.25" y="571.20" font-size="8.2" class="lg" textLength="70.25" lengthAdjust="spacingAndGlyphs">% PD1+ CD4+ T Cells</text>
<text x="111.25" y="582.60" font-size="8.2" class="lg" textLength="70.25" lengthAdjust="spacingAndGlyphs">% PD1+ CD8+ T Cells</text>
<text transform="translate(26.60,643.10) rotate(-90)" font-size="10.3" text-anchor="middle" textLength="35.40" lengthAdjust="spacingAndGlyphs">% T cells</text>
<text transform="translate(38.60,644.40) rotate(-90)" font-size="10.3" text-anchor="middle" textLength="68.90" lengthAdjust="spacingAndGlyphs">expressing PD-1</text>
<line x1="336.60" y1="592.40" x2="336.60" y2="695.60" stroke="#000" stroke-width="1.25"/>
<line x1="336.00" y1="695.00" x2="506.75" y2="695.00" stroke="#000" stroke-width="1.25"/>
<line x1="333.60" y1="695.00" x2="336.60" y2="695.00" stroke="#000" stroke-width="1"/>
<text x="330.30" y="698.70" font-size="8.8" text-anchor="end" textLength="4.45" lengthAdjust="spacingAndGlyphs">0</text>
<line x1="333.60" y1="665.80" x2="336.60" y2="665.80" stroke="#000" stroke-width="1"/>
<text x="330.30" y="669.50" font-size="8.8" text-anchor="end" textLength="8.90" lengthAdjust="spacingAndGlyphs">20</text>
<line x1="333.60" y1="636.60" x2="336.60" y2="636.60" stroke="#000" stroke-width="1"/>
<text x="330.30" y="640.30" font-size="8.8" text-anchor="end" textLength="8.90" lengthAdjust="spacingAndGlyphs">40</text>
<line x1="333.60" y1="607.40" x2="336.60" y2="607.40" stroke="#000" stroke-width="1"/>
<text x="330.30" y="611.10" font-size="8.8" text-anchor="end" textLength="8.90" lengthAdjust="spacingAndGlyphs">60</text>
<line x1="347.80" y1="695.00" x2="347.80" y2="698.00" stroke="#000" stroke-width="1"/>
<text x="347.80" y="709.40" font-size="8.8" text-anchor="middle" textLength="4.45" lengthAdjust="spacingAndGlyphs">0</text>
<line x1="393.20" y1="695.00" x2="393.20" y2="698.00" stroke="#000" stroke-width="1"/>
<text x="393.20" y="709.40" font-size="8.8" text-anchor="middle" textLength="8.90" lengthAdjust="spacingAndGlyphs">20</text>
<line x1="438.60" y1="695.00" x2="438.60" y2="698.00" stroke="#000" stroke-width="1"/>
<text x="438.60" y="709.40" font-size="8.8" text-anchor="middle" textLength="8.90" lengthAdjust="spacingAndGlyphs">40</text>
<line x1="484.00" y1="695.00" x2="484.00" y2="698.00" stroke="#000" stroke-width="1"/>
<text x="484.00" y="709.40" font-size="8.8" text-anchor="middle" textLength="8.90" lengthAdjust="spacingAndGlyphs">60</text>
<text x="323.80" y="723.20" font-size="10.3" textLength="195.00" lengthAdjust="spacingAndGlyphs">Days following brentuximab vedotin initiation</text>
<line x1="349.25" y1="592.40" x2="349.25" y2="694.50" stroke="#2a2a2a" stroke-width="1.3" stroke-dasharray="3.4,2.35"/>
<text x="355.35" y="598.40" font-size="8.2" class="lg" textLength="9.60" lengthAdjust="spacingAndGlyphs">BV</text>
<line x1="396.75" y1="592.40" x2="396.75" y2="694.50" stroke="#2a2a2a" stroke-width="1.3" stroke-dasharray="3.4,2.35"/>
<text x="402.85" y="598.40" font-size="8.2" class="lg" textLength="9.60" lengthAdjust="spacingAndGlyphs">BV</text>
<line x1="444.25" y1="592.40" x2="444.25" y2="694.50" stroke="#2a2a2a" stroke-width="1.3" stroke-dasharray="3.4,2.35"/>
<text x="450.35" y="598.40" font-size="8.2" class="lg" textLength="9.60" lengthAdjust="spacingAndGlyphs">BV</text>
<text x="294.80" y="569.60" font-size="12.4" textLength="7.60" lengthAdjust="spacingAndGlyphs" style="stroke-width:0.2px" font-weight="bold">H</text>
<polyline points="347.80,630.47 395.47,631.20 443.14,625.07 490.81,647.40" fill="none" stroke="#6db24f" stroke-width="1.1" stroke-linejoin="round"/>
<polyline points="347.80,627.55 395.47,632.51 443.14,642.29 490.81,619.08" fill="none" stroke="#b41439" stroke-width="1.1" stroke-linejoin="round"/>
<polyline points="347.80,683.17 395.47,677.48 443.14,673.25 490.81,673.98" fill="none" stroke="#65468a" stroke-width="1.1" stroke-linejoin="round"/>
<circle cx="347.80" cy="630.47" r="2.05" fill="#6db24f"/>
<circle cx="395.47" cy="631.20" r="2.05" fill="#6db24f"/>
<circle cx="443.14" cy="625.07" r="2.05" fill="#6db24f"/>
<circle cx="490.81" cy="647.40" r="2.05" fill="#6db24f"/>
<polygon points="347.80,625.05 350.30,629.55 345.30,629.55" fill="#b41439"/>
<polygon points="395.47,630.01 397.97,634.51 392.97,634.51" fill="#b41439"/>
<polygon points="443.14,639.79 445.64,644.29 440.64,644.29" fill="#b41439"/>
<polygon points="490.81,616.58 493.31,621.08 488.31,621.08" fill="#b41439"/>
<rect x="345.75" y="681.12" width="4.10" height="4.10" fill="#4b1c6d"/>
<rect x="393.42" y="675.43" width="4.10" height="4.10" fill="#4b1c6d"/>
<rect x="441.09" y="671.20" width="4.10" height="4.10" fill="#4b1c6d"/>
<rect x="488.76" y="671.93" width="4.10" height="4.10" fill="#4b1c6d"/>
<line x1="356.25" y1="577.00" x2="366.25" y2="577.00" stroke="#65468a" stroke-width="1.1"/>
<rect x="359.70" y="574.95" width="4.10" height="4.10" fill="#4b1c6d"/>
<line x1="402.00" y1="577.00" x2="413.00" y2="577.00" stroke="#6db24f" stroke-width="1.1"/>
<circle cx="407.50" cy="577.00" r="2.05" fill="#6db24f"/>
<line x1="450.75" y1="577.00" x2="462.00" y2="577.00" stroke="#b41439" stroke-width="1.1"/>
<polygon points="456.25,574.50 458.75,579.00 453.75,579.00" fill="#b41439"/>
<text x="370.00" y="579.80" font-size="8.2" class="lg">% T<tspan dy="2" font-size="6">N</tspan></text>
<text x="416.25" y="579.80" font-size="8.2" class="lg">% T<tspan dy="2" font-size="6">CM</tspan></text>
<text x="465.00" y="579.80" font-size="8.2" class="lg">% T<tspan dy="2" font-size="6">EM</tspan></text>
<text transform="translate(314.60,643.60) rotate(-90)" font-size="10.3" text-anchor="middle" textLength="73.90" lengthAdjust="spacingAndGlyphs">% of CD4+ T cells</text>
<rect x="0.7" y="0.6" width="513.1" height="731.6" fill="none" stroke="#262626" stroke-width="1.6"/>
</svg></body></html>
